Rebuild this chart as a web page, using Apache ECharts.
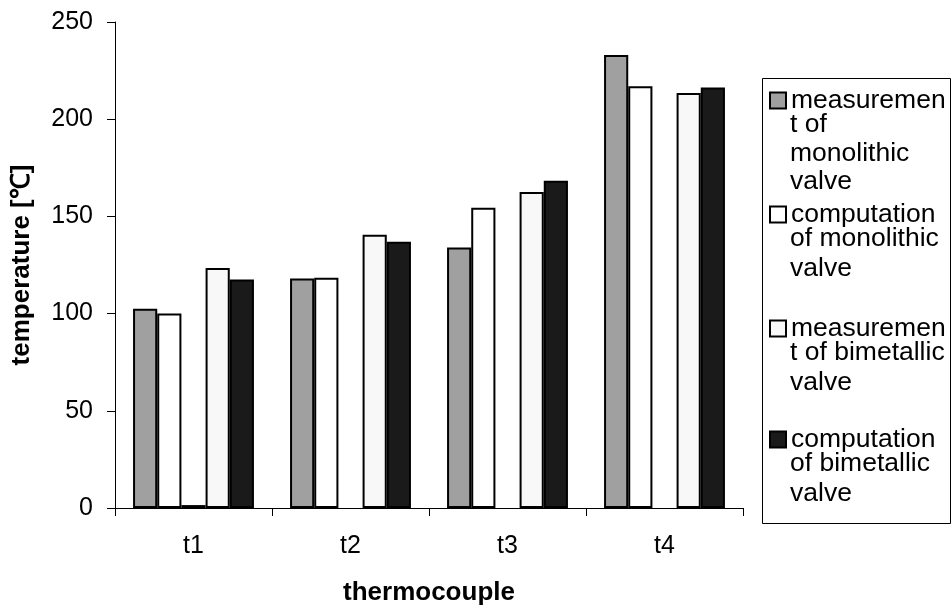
<!DOCTYPE html>
<html>
<head>
<meta charset="utf-8">
<script src="https://cdn.jsdelivr.net/npm/echarts@6/dist/echarts.min.js"></script>
<style>
  html, body { margin: 0; padding: 0; background: #fff; }
  #chart { width: 952px; height: 608px; }
</style>
</head>
<body>
<div id="chart"></div>
<script>
// thermocouple positions
var categories = ['t1', 't2', 't3', 't4'];
// temperatures [°C]
var measMono = [102.5, 118, 134, 233];
var compMono = [100, 118.5, 154.5, 217];
var extraBar = [1.5, null, null, null];   // unlabelled 3rd slot
var measBi = [123.5, 140.5, 162.5, 213.5];
var compBi = [117.5, 137, 168.3, 216.3];
var yTicks = { min: 0, max: 250, step: 50 };

var names = [
  'measurement of monolithic valve',
  'computation of monolithic valve',
  'measurement of bimetallic valve',
  'computation of bimetallic valve'
];
// how the legend text is wrapped, first line goes with the icon
var legendLines = [
  ['measuremen', 't of', 'monolithic', 'valve'],
  ['computation', 'of monolithic', 'valve'],
  ['measuremen', 't of bimetallic', 'valve'],
  ['computation', 'of bimetallic', 'valve']
];
var lineY = [
  [95, 125, 154, 182],
  [209, 239, 269],
  [323, 353, 383],
  [434, 464, 494]
];

var FONT = 'Liberation Sans, Arial, sans-serif';
var chart = echarts.init(document.getElementById('chart'));

function bar(name, data, color) {
  return {
    name: name,
    type: 'bar',
    data: data,
    barGap: '0%',
    barCategoryGap: '23%',
    itemStyle: { color: color, borderColor: '#000', borderWidth: 2 },
    silent: true
  };
}

var legends = [];
var graphics = [{
  type: 'rect',
  shape: { x: 762.5, y: 78.5, width: 188, height: 445 },
  style: { fill: 'none', stroke: '#000', lineWidth: 1 }
}];
for (var i = 0; i < names.length; i++) {
  legends.push({
    data: [names[i]],
    left: 769,
    top: lineY[i][0] - 8,
    padding: 0,
    itemWidth: 16,
    itemHeight: 16,
    icon: 'rect',
    selectedMode: false,
    itemStyle: { borderColor: '#000', borderWidth: 2 },
    formatter: (function (first) { return function () { return first; }; })(legendLines[i][0]),
    textStyle: { fontFamily: FONT, fontSize: 26.5, color: '#000', lineHeight: 16 }
  });
  for (var j = 1; j < legendLines[i].length; j++) {
    graphics.push({
      type: 'text',
      left: 790,
      top: lineY[i][j] - 15,
      style: { text: legendLines[i][j], font: '26.5px ' + FONT, fill: '#000', lineHeight: 30 }
    });
  }
}

var option = {
  backgroundColor: '#fff',
  animation: false,
  grid: { left: 115, right: 952 - 743, top: 22, bottom: 608 - 508, outerBoundsMode: 'none', containLabel: false },
  legend: legends,
  graphic: graphics,
  xAxis: {
    type: 'category',
    data: categories,
    name: 'thermocouple',
    nameLocation: 'middle',
    nameGap: 72,
    nameTextStyle: { fontFamily: FONT, fontSize: 26, fontWeight: 'bold', color: '#000' },
    axisLine: { lineStyle: { color: '#000', width: 1 } },
    axisTick: { show: true, length: 8, lineStyle: { color: '#000' } },
    axisLabel: { fontFamily: FONT, fontSize: 25, color: '#000', margin: 26 }
  },
  yAxis: {
    type: 'value',
    min: yTicks.min,
    max: yTicks.max,
    interval: yTicks.step,
    name: 'temperature [℃]',
    nameLocation: 'middle',
    nameGap: 80,
    nameTextStyle: { fontFamily: FONT, fontSize: 26, fontWeight: 'bold', color: '#000' },
    axisLine: { show: true, lineStyle: { color: '#000', width: 1 } },
    axisTick: { show: true, length: 8, lineStyle: { color: '#000' } },
    axisLabel: { fontFamily: FONT, fontSize: 25, color: '#000', margin: 22 },
    splitLine: { show: false }
  },
  series: [
    bar(names[0], measMono, '#a0a0a0'),
    bar(names[1], compMono, '#ffffff'),
    bar('extra', extraBar, '#ffffff'),
    bar(names[2], measBi, '#f8f8f8'),
    bar(names[3], compBi, '#1a1a1a')
  ]
};
chart.setOption(option);
</script>
</body>
</html>
